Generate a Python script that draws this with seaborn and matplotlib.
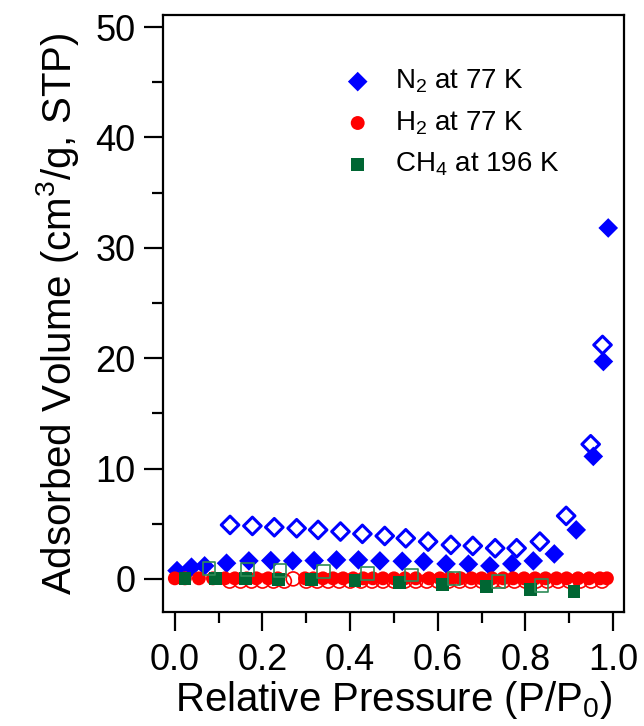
import numpy as np
import pandas as pd
import matplotlib
matplotlib.use("Agg")
import matplotlib.pyplot as plt
import seaborn as sns
from matplotlib.ticker import MultipleLocator

# ---------------- data ----------------
n2_ads_x = [0.005, 0.038, 0.068, 0.118, 0.169, 0.219, 0.269, 0.318, 0.369, 0.419,
            0.468, 0.519, 0.568, 0.619, 0.670, 0.719, 0.769, 0.818, 0.866, 0.916,
            0.955, 0.978, 0.989]
n2_ads_y = [0.75, 1.06, 1.18, 1.42, 1.63, 1.66, 1.63, 1.66, 1.72, 1.72,
            1.63, 1.60, 1.57, 1.36, 1.33, 1.18, 1.36, 1.63, 2.26, 4.44,
            11.1, 19.7, 31.8]
n2_des_x = [0.976, 0.949, 0.893, 0.833, 0.780, 0.731, 0.680, 0.630, 0.578, 0.527,
            0.479, 0.428, 0.378, 0.327, 0.278, 0.227, 0.177, 0.126]
n2_des_y = [21.2, 12.2, 5.71, 3.38, 2.78, 2.78, 2.99, 3.08, 3.38, 3.68,
            3.89, 4.08, 4.29, 4.44, 4.59, 4.68, 4.80, 4.89]

h2_ads_x = [0.0, 0.023, 0.055, 0.087, 0.114, 0.137, 0.164, 0.186, 0.213, 0.235,
            0.297, 0.316, 0.338, 0.361, 0.384, 0.407, 0.430, 0.452, 0.475, 0.500,
            0.525, 0.550, 0.580, 0.605, 0.628, 0.652, 0.677, 0.700, 0.724, 0.749,
            0.772, 0.797, 0.822, 0.846, 0.871, 0.894, 0.920, 0.945, 0.970, 0.986]
h2_ads_y = [0.05, 0.05, 0.05, 0.05, 0.05, 0.05, 0.05, 0.05, 0.05, 0.05,
            0.05, 0.05, 0.05, 0.05, 0.05, 0.05, 0.05, 0.05, 0.05, 0.05,
            0.05, 0.05, 0.05, 0.05, 0.05, 0.05, 0.05, 0.05, 0.05, 0.05,
            0.05, 0.05, 0.05, 0.05, 0.05, 0.05, 0.05, 0.05, 0.05, 0.05]
h2_des_x = [0.975, 0.950, 0.925, 0.900, 0.875, 0.850, 0.825, 0.800, 0.775, 0.750,
            0.725, 0.700, 0.675, 0.650, 0.625, 0.600, 0.575, 0.550, 0.525, 0.500,
            0.475, 0.450, 0.425, 0.400, 0.375, 0.350, 0.325, 0.300, 0.270, 0.250,
            0.225, 0.200, 0.175, 0.150, 0.125]
h2_des_y = [-0.2, -0.2, -0.2, -0.2, -0.2, -0.2, -0.2, -0.2, -0.2, -0.2,
            -0.2, -0.2, -0.2, -0.2, -0.2, -0.2, -0.2, -0.2, -0.2, -0.2,
            -0.2, -0.2, -0.2, -0.2, -0.2, -0.2, -0.2, -0.2, 0.0, -0.2,
            -0.2, -0.2, -0.2, -0.2, -0.2]

ch4_ads_x = [0.023, 0.093, 0.161, 0.236, 0.312, 0.411, 0.512, 0.611, 0.712, 0.811, 0.911]
ch4_ads_y = [0.0, 0.0, 0.0, -0.09, -0.09, -0.18, -0.33, -0.54, -0.70, -0.93, -1.15]
ch4_des_x = [0.837, 0.738, 0.637, 0.540, 0.439, 0.340, 0.240, 0.165, 0.078]
ch4_des_y = [-0.63, -0.24, 0.06, 0.36, 0.52, 0.66, 0.75, 0.82, 0.97]

labels = ["N$_2$ at 77 K", "H$_2$ at 77 K", "CH$_4$ at 196 K"]
colors = ["#0000FF", "#FF0000", "#006633"]
markers = ["D", "o", "s"]

# ---------------- plot ----------------
sns.set_style("ticks")
plt.rcParams["font.family"] = ["Liberation Sans", "DejaVu Sans"]
plt.rcParams["mathtext.fontset"] = "custom"
plt.rcParams["mathtext.rm"] = "Liberation Sans"
plt.rcParams["mathtext.it"] = "Liberation Sans"
plt.rcParams["text.color"] = "black"
plt.rcParams["axes.labelcolor"] = "black"
plt.rcParams["xtick.color"] = "black"
plt.rcParams["ytick.color"] = "black"

fig = plt.figure(figsize=(6.44, 7.26), dpi=100)
ax = fig.add_axes([163 / 644, 114 / 726, 461 / 644, 597 / 726])

ads = pd.concat([
    pd.DataFrame({"x": n2_ads_x, "y": n2_ads_y, "gas": labels[0]}),
    pd.DataFrame({"x": h2_ads_x, "y": h2_ads_y, "gas": labels[1]}),
    pd.DataFrame({"x": ch4_ads_x, "y": ch4_ads_y, "gas": labels[2]}),
], ignore_index=True)

# desorption (open symbols) first, beneath
sns.scatterplot(x=h2_des_x, y=h2_des_y, marker="o", s=100, facecolor="none",
                edgecolor=colors[1], linewidth=1.2, ax=ax, legend=False, zorder=2)
sns.scatterplot(x=n2_des_x, y=n2_des_y, marker="D", s=80, facecolor="none",
                edgecolor=colors[0], linewidth=2.2, ax=ax, legend=False, zorder=3)

# adsorption, filled
for lab, col, mk, sz in zip(labels, colors, markers, [100, 100, 85]):
    d = ads[ads["gas"] == lab]
    sns.scatterplot(data=d, x="x", y="y", marker=mk, s=sz, color=col,
                    edgecolor="none", linewidth=0, ax=ax, label=lab, zorder=4)

sns.scatterplot(x=ch4_des_x, y=ch4_des_y, marker="s", s=85, facecolor="none",
                edgecolor="#2e8b57", linewidth=1.2, ax=ax, legend=False, zorder=5)

ax.set_xlim(-0.027, 1.025)
ax.set_ylim(-3.0, 51.1)
ax.xaxis.set_major_locator(MultipleLocator(0.2))
ax.xaxis.set_minor_locator(MultipleLocator(0.1))
ax.yaxis.set_major_locator(MultipleLocator(10))
ax.yaxis.set_minor_locator(MultipleLocator(5))
ax.xaxis.set_major_formatter(matplotlib.ticker.FormatStrFormatter("%.1f"))

for s in ax.spines.values():
    s.set_linewidth(1.6)
    s.set_color("black")
ax.tick_params(which="major", direction="out", length=14, width=1.6, labelsize=26,
               colors="black", pad=6)
ax.tick_params(axis="x", which="major", pad=8)
ax.tick_params(which="minor", direction="out", length=8, width=1.6)

ax.set_xlabel("Relative Pressure (P/P$_0$)", fontsize=29, labelpad=1)
ax.set_ylabel("Adsorbed Volume (cm$^3$/g, STP)", fontsize=29, labelpad=10)

leg = ax.legend(loc="upper left", bbox_to_anchor=(0.338, 0.93), frameon=False,
                fontsize=20, handletextpad=0.36, labelspacing=0.5, borderaxespad=0,
                markerscale=1.0)

fig.savefig("out.png", dpi=100)
